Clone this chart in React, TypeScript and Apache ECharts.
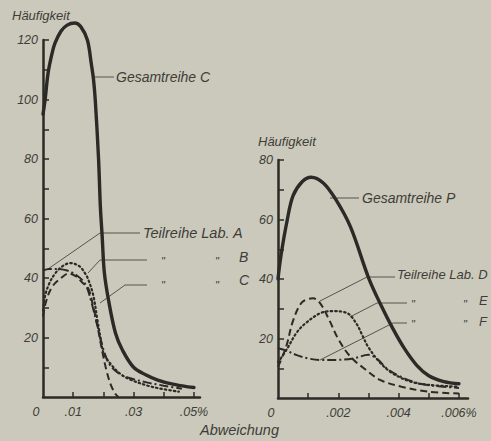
import React, { useEffect, useRef } from "react";
import * as echarts from "echarts";

// ---- data (left chart: series C, deviation in %) ----
const gesamtC: [number, number][] = [
  [0, 95], [0.0007, 100], [0.0017, 109], [0.003, 115.5], [0.004, 119], [0.006, 123], [0.008, 125],
  [0.0105, 125.7], [0.0125, 124.5], [0.0147, 120], [0.016, 112], [0.0167, 107], [0.0173, 100],
  [0.0184, 80], [0.019, 64], [0.0196, 54], [0.0203, 42], [0.0217, 32.6], [0.024, 21.5],
  [0.0263, 15.8], [0.03, 10], [0.034, 7.5], [0.038, 5.7], [0.043, 4.3], [0.048, 3.4], [0.05, 3.2],
];
const teilA: [number, number][] = [
  [0, 42.5], [0.002, 43], [0.005, 43], [0.008, 42.5], [0.011, 41], [0.014, 38], [0.016, 32],
  [0.018, 24], [0.02, 16], [0.022, 11], [0.025, 8], [0.029, 6.3], [0.034, 5], [0.04, 3.8], [0.046, 2.8],
];
const teilB: [number, number][] = [
  [0, 29], [0.0007, 34], [0.002, 38], [0.004, 41.5], [0.0065, 44], [0.009, 45], [0.012, 44],
  [0.014, 41.5], [0.015, 39.5], [0.0167, 34], [0.018, 26], [0.0192, 19], [0.0201, 14.7],
  [0.0233, 10], [0.026, 7.5], [0.029, 5.8], [0.0347, 3.8], [0.04, 2.6], [0.045, 1.8],
];
const teilC: [number, number][] = [
  [0, 27], [0.001, 32], [0.003, 37], [0.006, 40], [0.0085, 41.5], [0.011, 40.5], [0.013, 38.5],
  [0.015, 36.5], [0.0165, 31], [0.018, 24], [0.0195, 16], [0.021, 9], [0.0225, 4], [0.024, 1], [0.025, 0],
];

// ---- data (right chart: series P) ----
const gesamtP: [number, number][] = [
  [0, 40], [0.0001, 48], [0.0003, 59.5], [0.0005, 68], [0.0008, 72.7], [0.0011, 74.2], [0.0015, 72.3],
  [0.0019, 67], [0.0024, 57.6], [0.003, 40.5], [0.0034, 31.5], [0.0038, 23.5], [0.0042, 16.5],
  [0.0046, 11], [0.005, 7.5], [0.0055, 5.5], [0.006, 4.8],
];
const teilD: [number, number][] = [
  [0, 10.5], [0.00027, 17.2], [0.0005, 26], [0.0008, 32.2], [0.00116, 33.5], [0.0014, 31.8],
  [0.0017, 26.2], [0.002, 19.8], [0.0024, 13.9], [0.0029, 9.6], [0.0034, 6], [0.0041, 3.8],
  [0.005, 2.1], [0.006, 1.5],
];
const teilE: [number, number][] = [
  [0, 12], [0.0003, 16.5], [0.0006, 21.7], [0.0009, 25], [0.0014, 28.5], [0.0018, 29.2],
  [0.0023, 28.5], [0.0026, 25], [0.0028, 21], [0.003, 17], [0.0034, 11.7], [0.0038, 8.3],
  [0.0044, 5.5], [0.005, 4.4], [0.006, 3.8],
];
const teilF: [number, number][] = [
  [0, 16.7], [0.0003, 15.8], [0.0006, 14.5], [0.001, 13.3], [0.0014, 12.8], [0.0019, 12.8],
  [0.0025, 13.3], [0.003, 14.5], [0.0033, 13], [0.0036, 10], [0.004, 7.5], [0.0045, 5.4],
  [0.005, 4.3], [0.006, 3.4],
];

// ---- ticks / labels ----
const leftXTicks = [0.01, 0.02, 0.03, 0.04, 0.05];
const leftXLabels = [0, 0.01, 0.03, 0.05];
const rightXTicks = [0.001, 0.002, 0.003, 0.004, 0.005, 0.006];
const rightXLabels = [0, 0.002, 0.004, 0.006];
const leftYTicks = [10, 20, 30, 40, 50, 60, 70, 80, 90, 100, 110, 120];
const leftYLabels = [20, 40, 60, 80, 100, 120];
const rightYTicks = [10, 20, 30, 40, 50, 60, 70, 80];
const rightYLabels = [20, 40, 60, 80];

const BG = "#cbc9bb";
const INK = "#2b2a26";
const TXT = "#3e3d38";
const FONT = "'Liberation Sans', Arial, sans-serif";

function fmtX(v: number, scale: number, maxK: number): string {
  const k = Math.round(v * scale);
  if (k === 0) return "{z|0}";
  const s = "." + String(k).padStart(scale === 100 ? 2 : 3, "0");
  return k === maxK ? s + "%" : s;
}

export default function App() {
  const ref = useRef<HTMLDivElement>(null);
  useEffect(() => {
    if (!ref.current) return;
    const chart = echarts.init(ref.current, undefined, { renderer: "svg" });
    const axisLabelBase = {
      color: TXT,
      fontSize: 12.5,
      fontStyle: "italic" as const,
      fontFamily: FONT,
    };
    const xAxisCommon = (ticks: number[], labels: number[], scale: number, maxK: number) => ({
      type: "value" as const,
      axisLine: { show: true, onZero: false, lineStyle: { color: INK, width: 2.5 } },
      axisTick: { show: true, inside: true, length: 5, customValues: ticks, lineStyle: { color: INK, width: 1.5 } },
      axisLabel: {
        ...axisLabelBase,
        margin: 8,
        customValues: labels,
        formatter: (v: number) => fmtX(v, scale, maxK),
        rich: { z: { ...axisLabelBase, padding: [0, 14, 0, 0] } },
      },
      splitLine: { show: false },
    });
    const yAxisCommon = (max: number, ticks: number[], labels: number[]) => ({
      type: "value" as const,
      min: 0,
      max,
      interval: 10,
      axisLine: { show: true, onZero: false, lineStyle: { color: INK, width: 2.5 } },
      axisTick: { show: true, inside: true, length: 6, customValues: ticks, lineStyle: { color: INK, width: 1.5 } },
      axisLabel: { ...axisLabelBase, margin: 5, customValues: labels },
      splitLine: { show: false },
    });
    const lineSeries = (data: [number, number][], idx: number, width: number, type: any, cap: any = "butt") => ({
      type: "line" as const,
      xAxisIndex: idx,
      yAxisIndex: idx,
      data,
      smooth: 0.35,
      showSymbol: false,
      clip: false,
      lineStyle: { color: INK, width, type, cap },
    });
    const textStyle = (size = 13) => ({
      fill: TXT,
      fontSize: size,
      fontStyle: "italic",
      fontFamily: FONT,
    });
    const txt = (x: number, y: number, text: string, size = 13) => ({
      type: "text",
      x,
      y,
      style: { ...textStyle(size), text, textVerticalAlign: "middle" },
    });
    const leader = (pts: number[][]) => ({
      type: "polyline",
      shape: { points: pts },
      style: { stroke: "#55544e", lineWidth: 1, fill: "none" },
    });

    chart.setOption({
      animation: false,
      backgroundColor: BG,
      grid: [
        { left: 43, top: 40, width: 157, height: 357 },
        { left: 278, top: 160, width: 190, height: 238 },
      ],
      xAxis: [
        { ...xAxisCommon(leftXTicks, leftXLabels, 100, 5), gridIndex: 0, min: 0, max: 0.052 },
        { ...xAxisCommon(rightXTicks, rightXLabels, 1000, 6), gridIndex: 1, min: 0, max: 0.0063 },
      ],
      yAxis: [
        { ...yAxisCommon(120, leftYTicks, leftYLabels), gridIndex: 0 },
        { ...yAxisCommon(80, rightYTicks, rightYLabels), gridIndex: 1 },
      ],
      series: [
        lineSeries(gesamtC, 0, 3.4, "solid", "round"),
        lineSeries(teilA, 0, 2, [9, 3, 2, 3]),
        lineSeries(teilB, 0, 2.2, [1.5, 3], "round"),
        lineSeries(teilC, 0, 2, [7, 4]),
        lineSeries(gesamtP, 1, 3.4, "solid", "round"),
        lineSeries(teilD, 1, 2, [7, 4]),
        lineSeries(teilE, 1, 2.2, [1.5, 3], "round"),
        lineSeries(teilF, 1, 2, [9, 3, 2, 3]),
      ],
      graphic: [
        txt(12, 15, "Häufigkeit", 13),
        txt(258, 141, "Häufigkeit", 13),
        txt(200, 430, "Abweichung", 14.5),
        // left annotations
        leader([[93, 77], [114, 77]]),
        txt(116, 77, "Gesamtreihe C", 14),
        leader([[140, 233], [100, 233], [48, 269]]),
        txt(143, 233, "Teilreihe Lab. A", 14.5),
        leader([[147, 260], [100, 260], [88, 273]]),
        txt(161, 261, "\"", 11),
        txt(215, 261, "\"", 11),
        txt(239, 257, "B", 14),
        leader([[147, 285], [125, 285], [100, 303]]),
        txt(161, 285, "\"", 11),
        txt(215, 285, "\"", 11),
        txt(239, 280, "C", 14),
        // right annotations
        leader([[330, 198], [359, 198]]),
        txt(362, 198, "Gesamtreihe P", 14),
        leader([[395, 277], [367, 277], [320, 301]]),
        txt(397, 274, "Teilreihe Lab. D", 13),
        leader([[407, 303], [377, 303], [350, 317]]),
        txt(411, 304, "\"", 11),
        txt(463, 304, "\"", 11),
        txt(479, 300, "E", 13),
        leader([[407, 323], [393, 323], [320, 360]]),
        txt(411, 324, "\"", 11),
        txt(463, 324, "\"", 11),
        txt(479, 321, "F", 13),
      ],
    });
    return () => chart.dispose();
  }, []);
  return (
    <div
      ref={ref}
      style={{ position: "fixed", left: 0, top: 0, width: 491, height: 441, background: BG }}
    />
  );
}
